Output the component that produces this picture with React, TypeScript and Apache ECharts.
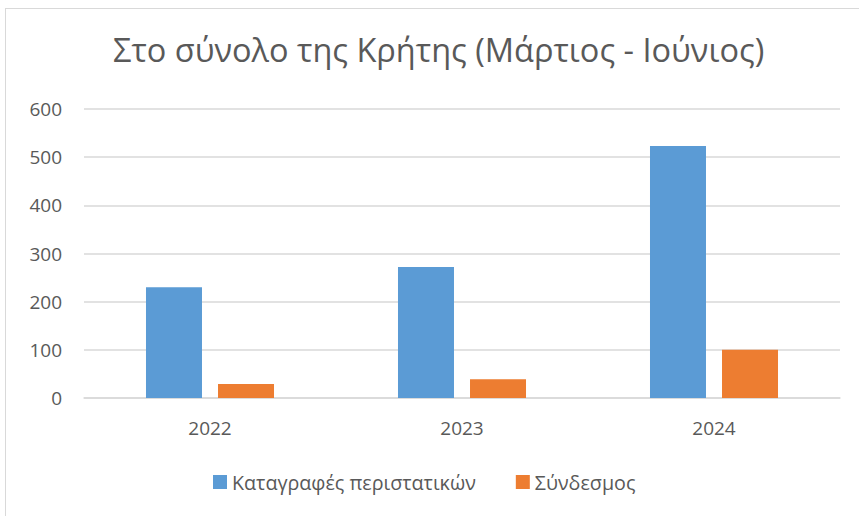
import React, { useEffect, useRef } from "react";
import * as echarts from "echarts";

const categories = ["2022", "2023", "2024"];
const seriesNames = ["Καταγραφές περιστατικών", "Σύνδεσμος"];
const cases = [230, 272, 523];
const link = [29, 39, 100];
const title = "Στο σύνολο της Κρήτης (Μάρτιος - Ιούνιος)";

export default function App() {
  const ref = useRef<HTMLDivElement>(null);
  useEffect(() => {
    if (!ref.current) return;
    const chart = echarts.init(ref.current, null, { renderer: "svg" });
    const font = "'Open Sans', sans-serif";
    chart.setOption({
      animation: false,
      backgroundColor: "#ffffff",
      textStyle: { fontFamily: font },
      title: {
        text: title,
        left: 102,
        top: 19,
        textStyle: { fontFamily: font, fontSize: 32.5, fontWeight: "normal", color: "#595959" },
      },
      legend: {
        data: seriesNames,
        bottom: 20,
        left: 202,
        itemWidth: 14,
        itemHeight: 14,
        itemGap: 40,
        icon: "rect",
        textStyle: { fontFamily: font, fontSize: 19.7, color: "#595959" },
      },
      grid: { left: 78, right: 20, top: 100, bottom: 119, containLabel: false },
      xAxis: {
        type: "category",
        data: categories,
        axisLine: { lineStyle: { color: "#d9d9d9", width: 1.5 } },
        axisTick: { show: false },
        axisLabel: { fontFamily: font, fontSize: 19, color: "#595959", margin: 20 },
      },
      yAxis: {
        type: "value",
        min: 0,
        max: 600,
        interval: 100,
        axisLine: { show: false },
        axisTick: { show: false },
        splitLine: { lineStyle: { color: "#d9d9d9", width: 1.5 } },
        axisLabel: { fontFamily: font, fontSize: 19, color: "#595959", margin: 22 },
      },
      series: [
        {
          name: seriesNames[0],
          type: "bar",
          data: cases,
          barWidth: 56,
          barGap: "28.6%",
          itemStyle: { color: "#5B9BD5" },
        },
        {
          name: seriesNames[1],
          type: "bar",
          data: link,
          barWidth: 56,
          itemStyle: { color: "#ED7D31" },
        },
      ],
    });
    return () => chart.dispose();
  }, []);
  return (
    <div
      style={{
        position: "absolute",
        left: 5,
        top: 8,
        width: 854,
        height: 508,
        borderLeft: "1px solid #d9d9d9",
        borderTop: "1px solid #d9d9d9",
        background: "#fff",
      }}
    >
      <div ref={ref} style={{ width: 854, height: 508 }} />
    </div>
  );
}
